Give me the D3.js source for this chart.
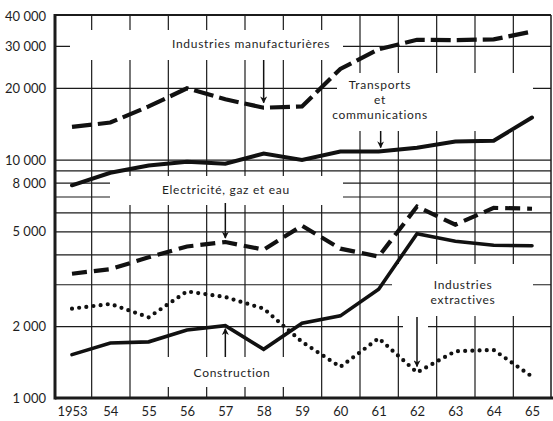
<!DOCTYPE html>
<html><head><meta charset="utf-8">
<script src="https://cdn.jsdelivr.net/npm/d3@7/dist/d3.min.js"></script>
<style>body{margin:0;background:#fff}svg{display:block}text{font-family:Lato,'Open Sans',sans-serif;fill:#1e1e1e}</style>
</head><body><svg id="c" width="553" height="421"></svg>
<script>
const years=[1953,1954,1955,1956,1957,1958,1959,1960,1961,1962,1963,1964,1965];
const yearLabels=["1953","54","55","56","57","58","59","60","61","62","63","64","65"];
const manufacturieres=[13700,14300,16700,19900,17900,16500,16700,24000,29000,31800,31700,31900,34400];
const transports=[7800,8800,9450,9780,9600,10600,9950,10800,10800,11200,11900,12000,15000];
const electricite=[3320,3470,3890,4320,4510,4190,5280,4230,3920,6350,5330,6270,6220];
const construction=[1520,1700,1720,1930,2010,1600,2060,2210,2860,4890,4540,4370,4350];
const extractives=[2370,2480,2180,2800,2650,2370,1720,1350,1780,1280,1570,1590,1230];
const yTickValues=[1000,2000,5000,8000,10000,20000,30000,40000];
const yTickLabels=["1 000","2 000","5 000","8 000","10 000","20 000","30 000","40 000"];
const yGridValues=[2000,3000,4000,5000,6000,7000,8000,9000,10000,20000,30000];
const xGridValues=[1953.5,1954.5,1955.5,1956.5,1957.5,1958.5,1959.5,1960.5,1961.5,1962.5,1963.5,1964.5];

const svg=d3.select("#c");
const L=55,R=551,T=15,B=398;
const x=d3.scaleLinear().domain([1953,1965]).range([72,532]);
const y=d3.scaleLog().domain([1000,40000]).range([B,16]);
const ink="#1b1b1b";

// grid via axes
const gx=svg.append("g").attr("transform",`translate(0,${B})`)
  .call(d3.axisBottom(x).tickValues(xGridValues).tickSize(-(B-T)).tickFormat(""));
gx.select(".domain").remove();
gx.selectAll("line").attr("stroke",ink).attr("stroke-width",1.2);
const gy=svg.append("g").attr("transform",`translate(${L},0)`)
  .call(d3.axisRight(y).tickValues(yGridValues).tickSize(R-L).tickFormat(""));
gy.select(".domain").remove();
gy.selectAll("line").attr("stroke",ink).attr("stroke-width",1.2);

// white gaps around annotations (as in the printed original)
const gaps=[[70,30,273,30],[337,73,196,58],[110,176,233,29],[392,264,141,52],[403,316,25,28],[150,357,140,30]];
svg.append("g").selectAll("rect").data(gaps).join("rect")
  .attr("x",d=>d[0]).attr("y",d=>d[1]).attr("width",d=>d[2]).attr("height",d=>d[3]).attr("fill","#fff");

// frame
svg.append("line").attr("x1",L).attr("x2",R).attr("y1",T).attr("y2",T).attr("stroke",ink).attr("stroke-width",2);
svg.append("line").attr("x1",R).attr("x2",R).attr("y1",T).attr("y2",B).attr("stroke",ink).attr("stroke-width",1.5);
svg.append("line").attr("x1",L).attr("x2",L).attr("y1",T-1).attr("y2",B+1.5).attr("stroke",ink).attr("stroke-width",3);
svg.append("line").attr("x1",L).attr("x2",553).attr("y1",B).attr("y2",B).attr("stroke",ink).attr("stroke-width",3);

// tick labels
const ay=svg.append("g").attr("transform",`translate(46,0)`)
  .call(d3.axisLeft(y).tickValues(yTickValues).tickSize(0).tickPadding(0).tickFormat((d,i)=>yTickLabels[i]));
ay.select(".domain").remove();
ay.selectAll("text").attr("font-size",13).attr("font-family","Lato").attr("fill",ink).attr("dy","0.35em");
const ax=svg.append("g").attr("transform",`translate(0,${B})`)
  .call(d3.axisBottom(x).tickValues(years).tickSize(0).tickPadding(9).tickFormat((d,i)=>yearLabels[i]));
ax.select(".domain").remove();
ax.selectAll("text").attr("font-size",13).attr("font-family","Lato").attr("fill",ink);

// series
const line=d3.line().x((d,i)=>x(years[i])).y(d=>y(d));
const series=[
  {v:manufacturieres,w:4.2,dash:"20,6",cap:"butt"},
  {v:transports,w:4,dash:null,cap:"round"},
  {v:electricite,w:4.2,dash:"15,7",cap:"butt"},
  {v:construction,w:3.6,dash:null,cap:"round"},
  {v:extractives,w:4.2,dash:"0,7.2",cap:"round"}
];
svg.append("g").selectAll("path").data(series).join("path")
  .attr("d",d=>line(d.v)).attr("fill","none").attr("stroke","#111")
  .attr("stroke-width",d=>d.w).attr("stroke-dasharray",d=>d.dash)
  .attr("stroke-linecap",d=>d.cap).attr("stroke-linejoin","miter");

// arrows
svg.append("defs").append("marker").attr("id","ah").attr("viewBox","0 0 10 10")
  .attr("refX",9).attr("refY",5).attr("markerWidth",7).attr("markerHeight",7)
  .attr("markerUnits","userSpaceOnUse").attr("orient","auto")
  .append("path").attr("d","M0,0L10,5L0,10L3,5Z").attr("fill","#111");
const arrows=[
  [x(1958),60,y(manufacturieres[5])-5],
  [x(1961)+2,131,y(transports[8])-4],
  [x(1957),203,y(electricite[4])-4],
  [x(1957),357,y(construction[4])+3],
  [x(1962),317,y(extractives[9])-6]
];
svg.append("g").selectAll("line").data(arrows).join("line")
  .attr("x1",d=>d[0]).attr("x2",d=>d[0]).attr("y1",d=>d[1]).attr("y2",d=>d[2])
  .attr("stroke","#111").attr("stroke-width",1.5).attr("marker-end","url(#ah)");

// annotations
const notes=[
  ["Industries manufacturières",172,48,"start"],
  ["Transports",380,89,"middle"],
  ["et",380,104,"middle"],
  ["communications",380,119,"middle"],
  ["Electricité, gaz et eau",162,194,"start"],
  ["Industries",463,289,"middle"],
  ["extractives",463,304,"middle"],
  ["Construction",232,377,"middle"]
];
svg.append("g").selectAll("text").data(notes).join("text")
  .attr("x",d=>d[1]).attr("y",d=>d[2]).attr("text-anchor",d=>d[3])
  .attr("font-size",12).attr("letter-spacing",0.7).text(d=>d[0]);
</script></body></html>
